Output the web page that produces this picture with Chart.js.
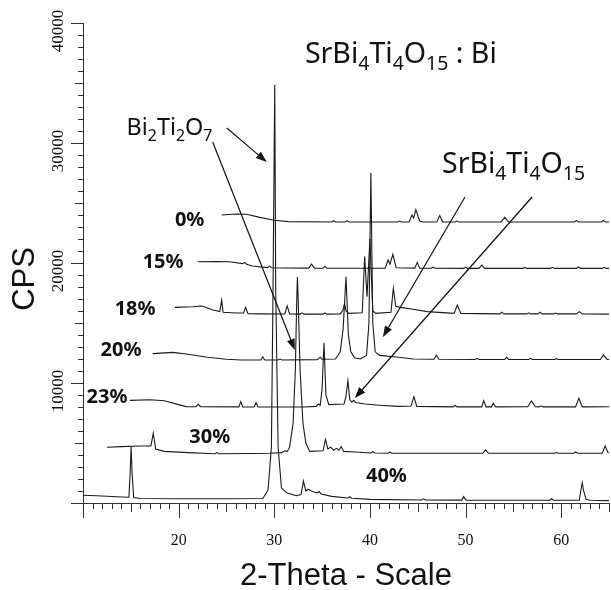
<!DOCTYPE html>
<html>
<head>
<meta charset="utf-8">
<script src="https://cdn.jsdelivr.net/npm/chart.js@4.4.1/dist/chart.umd.min.js"></script>
<style>
  html, body { margin: 0; padding: 0; background: #fff; overflow: hidden; }
  canvas { display: block; }
</style>
</head>
<body>
<canvas id="xrd" width="611" height="590"></canvas>
<script>
// XRD patterns, [2-theta, CPS] (each pattern already offset)
const sample0 = [[24.5,24000],[26,24080],[27.1,24060],[28.5,23800],[30,23560],[31.5,23450],[36.0,23420],[36.2,23520],[36.4,23420],[37.4,23420],[37.6,23530],[37.8,23420],[42.9,23420],[43.1,23500],[43.3,23420],[44.1,23420],[44.4,24000],[44.58,23750],[44.8,24450],[45.2,23500],[45.5,23420],[47.0,23420],[47.3,23950],[47.6,23430],[48.9,23420],[49.1,23500],[49.3,23420],[53.7,23420],[54.1,23800],[54.5,23420],[61.4,23420],[61.6,23550],[61.8,23420],[64.2,23420],[64.4,23550],[64.6,23420],[65,23420]];
const sample15 = [[22.0,20100],[24,20120],[25.3,20100],[26.7,19950],[26.9,20050],[27.1,19900],[27.7,19750],[29.3,19620],[29.5,19760],[29.7,19600],[31,19580],[33.6,19570],[33.9,19900],[34.2,19570],[35.1,19560],[35.3,19720],[35.5,19560],[41.6,19560],[41.9,20250],[42.1,19900],[42.4,20720],[42.75,19600],[44.7,19570],[44.95,20050],[45.2,19570],[46.4,19560],[46.6,19650],[46.8,19560],[49.8,19550],[50.0,19640],[50.2,19550],[51.4,19550],[51.7,19830],[52.0,19550],[56.0,19550],[56.2,19630],[56.4,19550],[58.9,19550],[59.1,19640],[59.3,19550],[61.6,19550],[61.8,19680],[62.0,19550],[64.3,19550],[64.5,19640],[64.7,19550],[65,19550]];
const sample18 = [[19.6,16300],[21.5,16360],[22.3,16420],[22.6,16380],[23.5,16100],[24.3,15950],[24.5,16900],[24.65,15900],[26.0,15830],[26.8,15830],[27.0,16300],[27.25,15780],[28.5,15760],[31.1,15750],[31.35,16420],[31.6,15750],[32.7,15740],[32.9,15850],[33.1,15740],[35.1,15740],[35.3,15850],[35.5,15740],[36.9,15760],[37.2,16100],[37.35,16650],[37.5,16000],[37.8,15800],[39.2,15850],[39.45,20550],[39.7,17200],[40.0,22000],[40.3,16000],[40.6,15800],[42.2,15900],[42.45,17900],[42.7,16400],[43.2,16300],[44.5,16150],[46,15950],[48.8,15800],[49.15,16500],[49.5,15800],[53.6,15760],[53.8,15900],[54.0,15760],[56.4,15760],[56.6,15850],[56.8,15760],[57.6,15760],[57.8,15900],[58.0,15760],[59.2,15760],[59.4,15830],[59.6,15760],[61.6,15760],[61.9,15950],[62.2,15760],[65,15740]];
const sample20 = [[17.3,12450],[19.4,12550],[21,12400],[23,12150],[25,11980],[26.5,11920],[28.6,11920],[28.8,12190],[29.0,11920],[30.4,11920],[30.6,12000],[30.8,11920],[34.5,11950],[34.8,12150],[35.0,11980],[36.4,12000],[36.9,12600],[37.2,14500],[37.5,18860],[37.75,14000],[38.0,12600],[38.4,12100],[39.0,12000],[39.65,12300],[39.9,15000],[40.1,27500],[40.3,15000],[40.55,12600],[41,12300],[43,12150],[44.5,12000],[46.7,11980],[46.95,12330],[47.2,11980],[51.0,11960],[51.2,12060],[51.4,11960],[54.1,11960],[54.3,12140],[54.5,11960],[56.6,11960],[56.8,12060],[57.0,11960],[59.3,11960],[59.5,12030],[59.7,11960],[64.1,11960],[64.4,12330],[64.8,11960],[65,11960]];
const sample23 = [[14.9,8550],[17,8600],[18.5,8520],[20,8200],[20.8,8030],[21.8,8020],[22.05,8220],[22.3,8020],[26.3,8010],[26.5,8450],[26.7,8010],[27.9,8000],[28.1,8360],[28.3,8000],[33,8000],[34.4,8050],[34.6,8250],[34.8,8150],[35.0,9500],[35.2,13360],[35.4,9000],[35.7,8200],[37.3,8250],[37.5,8900],[37.7,10190],[37.9,8600],[38.1,8400],[38.3,8550],[38.5,8380],[39.5,8250],[41,8150],[43,8050],[44.3,8080],[44.6,8860],[44.9,8050],[48.7,8010],[48.9,8140],[49.1,8010],[51.7,8010],[51.9,8530],[52.15,8010],[52.7,8010],[52.9,8300],[53.15,8010],[56.5,8020],[56.9,8500],[57.3,8020],[57.7,8010],[57.9,8100],[58.1,8010],[61.5,8010],[61.85,8720],[62.2,8010],[65,8020]];
const sample30 = [[12.5,4650],[14,4700],[16,4750],[17.1,4760],[17.35,5810],[17.6,4500],[18.5,4300],[21,4200],[23.8,4100],[24.0,4200],[24.2,4100],[28,4130],[29.5,4150],[30.8,4200],[31.1,4350],[31.35,4280],[31.6,4650],[31.97,6670],[32.2,11000],[32.35,17000],[32.42,18830],[32.5,17000],[32.7,11000],[33.0,6670],[33.3,5000],[33.7,4300],[35.1,4350],[35.35,5300],[35.6,4500],[35.9,4650],[36.2,4400],[36.5,4550],[36.75,4400],[37.0,4700],[37.25,4300],[38.5,4250],[40.1,4170],[40.3,4270],[40.5,4170],[41.9,4150],[42.1,4230],[42.3,4150],[51.8,4140],[52.1,4420],[52.4,4140],[59.3,4140],[59.5,4210],[59.7,4140],[61.3,4140],[61.5,4250],[61.7,4140],[64.3,4150],[64.6,4750],[64.9,4200],[65,4180]];
const sample40 = [[10,650],[12,580],[14,500],[14.8,480],[14.93,2500],[15.03,4690],[15.13,2500],[15.3,450],[16,380],[20,350],[25,350],[28.8,380],[29.35,1080],[29.7,4670],[29.87,17750],[30.05,34830],[30.15,17750],[30.4,4670],[30.75,1250],[31.3,850],[32.3,600],[32.8,700],[33.05,1830],[33.3,1000],[33.55,1150],[33.7,1080],[33.9,1000],[34.2,900],[34.5,850],[34.7,950],[34.9,750],[36,550],[37.7,420],[37.9,520],[38.1,400],[40,300],[45.4,250],[45.6,350],[45.8,250],[49.6,240],[49.8,530],[50.05,240],[58.8,230],[59.0,350],[59.2,230],[61.9,230],[62.05,1000],[62.2,1690],[62.35,1000],[62.6,300],[63,230],[65,200]];

const series = [sample0, sample15, sample18, sample20, sample23, sample30, sample40];
const seriesNames = ['0%', '15%', '18%', '20%', '23%', '30%', '40%'];
const nameAnchors = [[21.15,23540],[18.38,20080],[15.45,16125],[13.98,12710],[12.51,8790],[23.25,5460],[41.73,2210]];

const xTickLabels = [20, 30, 40, 50, 60];
const yTickLabels = [10000, 20000, 30000, 40000];

// formulas: [text, isSubscript]
const titleParts = [['SrBi',0],['4',1],['Ti',0],['4',1],['O',0],['15',1],[' : Bi',0]];
const pyroParts = [['Bi',0],['2',1],['Ti',0],['2',1],['O',0],['7',1]];
const sbtParts = [['SrBi',0],['4',1],['Ti',0],['4',1],['O',0],['15',1]];

// arrows [from x, from y, to x, to y] in data units
const arrows = [[25.03,31250,29.21,28420],[23.56,30080,32.15,12750],[49.94,25500,41.36,13830],[56.96,25500,38.43,8750]];

function drawFormula(ctx, parts, x, y, size, width) {
  // shrink/grow so the whole formula spans the given width
  let total = 0;
  parts.forEach(([t, sub]) => {
    ctx.font = (sub ? size * 0.68 : size) + 'px "Noto Sans"';
    total += ctx.measureText(t).width;
  });
  size = size * width / total;
  let cx = x;
  parts.forEach(([t, sub]) => {
    ctx.font = (sub ? size * 0.68 : size) + 'px "Noto Sans"';
    ctx.fillText(t, cx, sub ? y + size * 0.26 : y);
    cx += ctx.measureText(t).width;
  });
}

const tickMarks = {
  id: 'tickMarks',
  afterDraw(chart) {
    const ctx = chart.ctx;
    const xs = chart.scales.x, ys = chart.scales.y;
    const area = chart.chartArea;
    ctx.save();
    ctx.strokeStyle = '#333';
    ctx.lineWidth = 1;
    ctx.beginPath();
    xs.ticks.forEach(t => {
      const px = Math.round(xs.getPixelForValue(t.value)) + 0.5;
      const len = t.value % 10 === 0 ? 15 : (t.value % 5 === 0 ? 9 : 6);
      ctx.moveTo(px, area.bottom);
      ctx.lineTo(px, area.bottom + len);
    });
    ys.ticks.forEach(t => {
      const py = Math.round(ys.getPixelForValue(t.value)) + 0.5;
      const len = t.value % 10000 === 0 ? 12 : (t.value % 5000 === 0 ? 8 : 5);
      ctx.moveTo(area.left, py);
      ctx.lineTo(area.left - len, py);
    });
    ctx.stroke();

    // y axis title
    ctx.fillStyle = '#111';
    ctx.font = '31px "Liberation Sans"';
    ctx.textAlign = 'center';
    ctx.textBaseline = 'middle';
    ctx.translate(25, 279);
    ctx.rotate(-Math.PI / 2);
    ctx.fillText('CPS', 0, 0);
    ctx.restore();
  }
};

const notes = {
  id: 'notes',
  afterDatasetsDraw(chart) {
    const ctx = chart.ctx;
    const xs = chart.scales.x, ys = chart.scales.y;
    const X = v => xs.getPixelForValue(v), Y = v => ys.getPixelForValue(v);
    ctx.save();
    ctx.fillStyle = '#111';
    ctx.strokeStyle = '#111';

    ctx.textAlign = 'center';
    ctx.textBaseline = 'middle';
    ctx.font = 'bold 20px "Noto Sans"';
    seriesNames.forEach((n, i) => {
      ctx.fillText(n, X(nameAnchors[i][0]), Y(nameAnchors[i][1]));
    });

    ctx.textAlign = 'left';
    ctx.textBaseline = 'alphabetic';
    drawFormula(ctx, titleParts, X(33.2), Y(36670), 27, 192);
    drawFormula(ctx, pyroParts, X(14.55), Y(30670), 22, 86);
    drawFormula(ctx, sbtParts, X(47.54), Y(27500), 24, 143);

    ctx.lineWidth = 1.2;
    arrows.forEach(([x1, y1, x2, y2]) => {
      const ax = X(x1), ay = Y(y1), bx = X(x2), by = Y(y2);
      const ang = Math.atan2(by - ay, bx - ax);
      const hl = 11, hw = 4;
      const cx = bx - hl * Math.cos(ang), cy = by - hl * Math.sin(ang);
      ctx.beginPath();
      ctx.moveTo(ax, ay);
      ctx.lineTo(cx, cy);
      ctx.stroke();
      ctx.beginPath();
      ctx.moveTo(bx, by);
      ctx.lineTo(cx + hw * Math.sin(ang), cy - hw * Math.cos(ang));
      ctx.lineTo(cx - hw * Math.sin(ang), cy + hw * Math.cos(ang));
      ctx.closePath();
      ctx.fill();
    });
    ctx.restore();
  }
};

new Chart(document.getElementById('xrd'), {
  type: 'scatter',
  data: {
    datasets: series.map((s, i) => ({
      label: seriesNames[i],
      data: s.map(p => ({ x: p[0], y: p[1] })),
      showLine: true,
      borderColor: '#1a1a1a',
      borderWidth: 1.1,
      pointRadius: 0,
      tension: 0
    }))
  },
  options: {
    responsive: false,
    animation: false,
    devicePixelRatio: 1,
    layout: { padding: { top: 23, right: 2, left: 0, bottom: 0 } },
    plugins: { legend: { display: false }, tooltip: { enabled: false } },
    scales: {
      x: {
        type: 'linear',
        min: 10,
        max: 65,
        grid: { display: false },
        border: { display: true, color: '#333', width: 1 },
        ticks: {
          stepSize: 1,
          autoSkip: false,
          maxRotation: 0,
          padding: 20,
          color: '#111',
          font: { family: 'Liberation Serif', size: 16 },
          callback: v => xTickLabels.includes(v) ? String(v) : ''
        },
        title: {
          display: true,
          text: '2-Theta - Scale',
          color: '#111',
          font: { family: 'Liberation Sans', size: 31, lineHeight: 0.9 },
          padding: 0
        },
        afterFit: s => { s.height = 87; s.paddingLeft = 0; s.paddingRight = 0; }
      },
      y: {
        min: 0,
        max: 40000,
        grid: { display: false },
        border: { display: true, color: '#333', width: 1 },
        ticks: {
          stepSize: 1000,
          autoSkip: false,
          minRotation: 90,
          maxRotation: 90,
          crossAlign: 'center',
          padding: -5,
          labelOffset: 8,
          color: '#111',
          font: { family: 'Liberation Serif', size: 17 },
          callback: v => yTickLabels.includes(v) ? String(v) : ''
        },
        afterFit: s => { s.width = 83; s.paddingTop = 0; s.paddingBottom = 0; }
      }
    }
  },
  plugins: [tickMarks, notes]
});
</script>
</body>
</html>
